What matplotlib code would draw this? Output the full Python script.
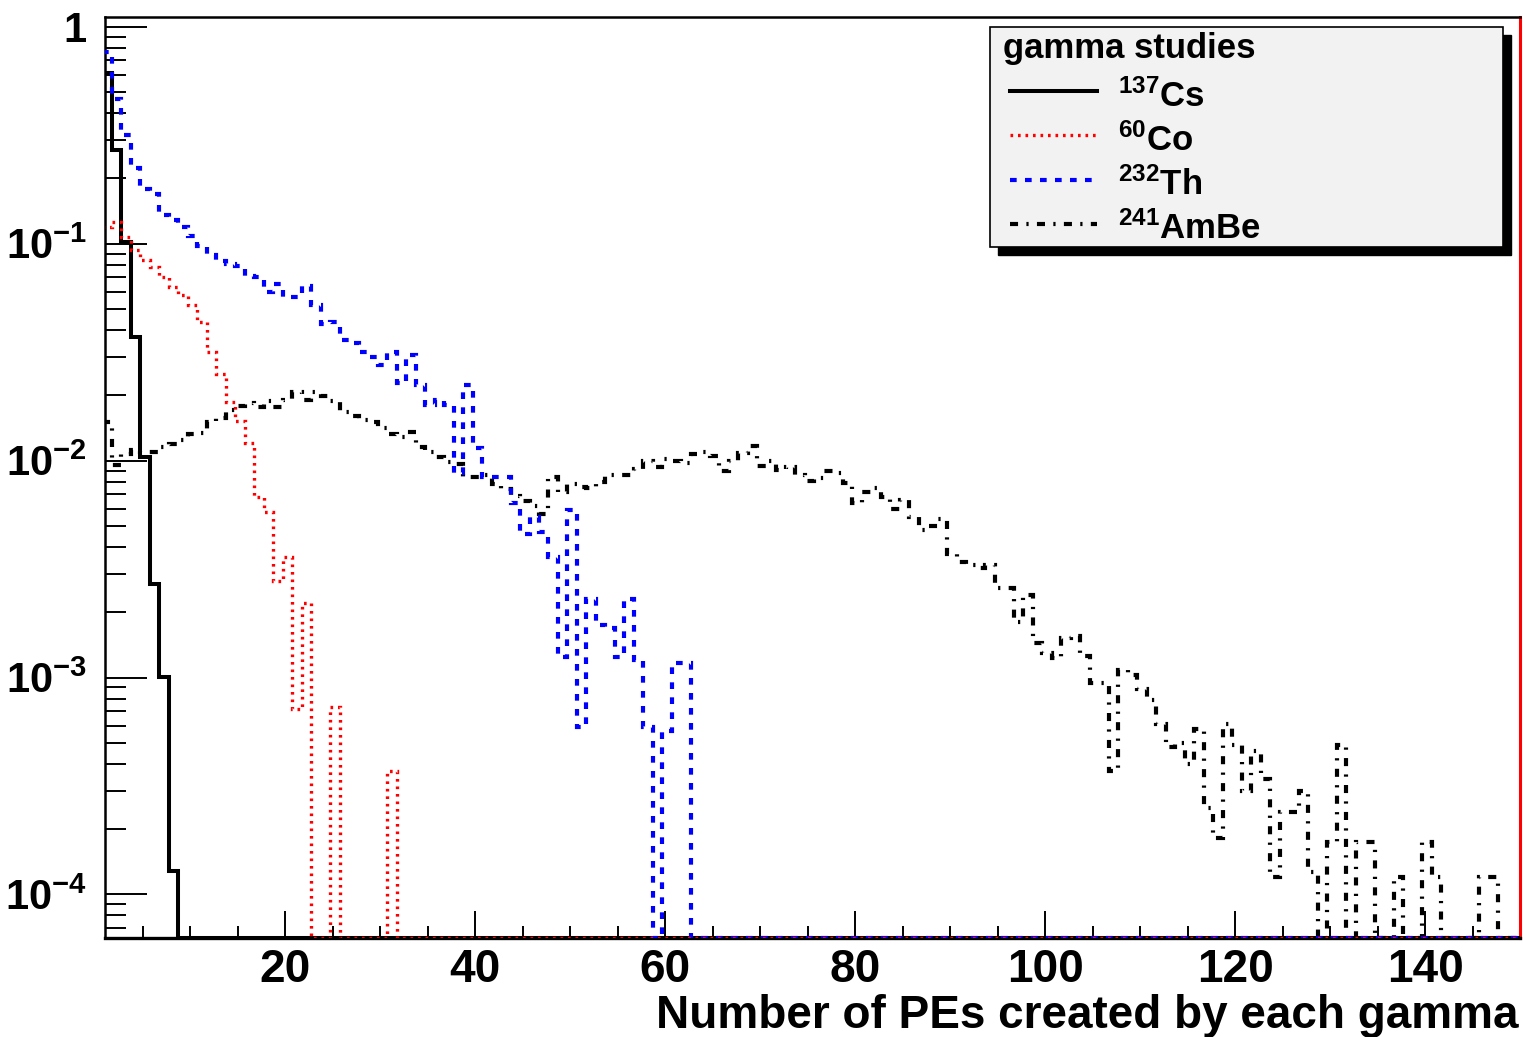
import matplotlib
matplotlib.use("Agg")
import matplotlib.pyplot as plt
import numpy as np
from matplotlib.patches import Rectangle
from matplotlib.lines import Line2D
from matplotlib.ticker import FixedLocator, MultipleLocator, LogLocator, NullFormatter

plt.rcParams['font.family'] = ['Liberation Sans', 'DejaVu Sans']
plt.rcParams['font.weight'] = 'bold'
plt.rcParams['mathtext.fontset'] = 'custom'
plt.rcParams['mathtext.rm'] = 'Liberation Sans:bold'
plt.rcParams['mathtext.bf'] = 'Liberation Sans:bold'
plt.rcParams['mathtext.it'] = 'Liberation Sans:bold'
plt.rcParams['mathtext.default'] = 'rm'
plt.rcParams['lines.scale_dashes'] = False

# histogram binning (1 PE wide bins)
bin_edges = np.arange(0.7, 151.0, 1.0)
n_bins = len(bin_edges) - 1

# fraction of gammas per PE bin
cs137 = [0.61, 0.27, 0.102, 0.037, 0.0104, 0.0027, 0.00101, 0.000128]

co60 = [0.119, 0.126, 0.107, 0.094, 0.084, 0.078, 0.070, 0.063, 0.058, 0.052,
        0.0437, 0.0318, 0.0252, 0.0187, 0.0153, 0.0121, 0.0068, 0.0058, 0.0028, 0.0036,
        0.00072, 0.0022, 0, 0, 0.00073, 0, 0, 0, 0, 0,
        0.00037]

th232 = [0.767, 0.466, 0.318, 0.224, 0.179, 0.170, 0.136, 0.128, 0.119, 0.109,
         0.098, 0.089, 0.083, 0.081, 0.079, 0.071, 0.070, 0.060, 0.065, 0.057,
         0.057, 0.064, 0.052, 0.0428, 0.0437, 0.036, 0.035, 0.0316, 0.0302, 0.0275,
         0.0316, 0.0229, 0.0307, 0.0224, 0.0181, 0.019, 0.0181, 0.0088, 0.0224, 0.0114,
         0.0084, 0.0084, 0.0084, 0.0064, 0.0046, 0.0055, 0.0047, 0.0036, 0.00125, 0.0059,
         0.00059, 0.0023, 0.00175, 0.0017, 0.00125, 0.0023, 0.0012, 0.00059, 0, 0.00057,
         0.00117, 0.00117]

ambe241 = [0.0151, 0.0095, 0.0107, 0.0112, 0.011, 0.011, 0.0116, 0.0119, 0.0125, 0.0132,
           0.0134, 0.0150, 0.0158, 0.0171, 0.0178, 0.0184, 0.0177, 0.0189, 0.0177, 0.0190,
           0.0207, 0.0190, 0.0207, 0.0199, 0.0188, 0.0168, 0.0160, 0.0154, 0.0150, 0.0141,
           0.0133, 0.0129, 0.0136, 0.0116, 0.0110, 0.0104, 0.0099, 0.0096, 0.0084, 0.0084,
           0.0086, 0.0078, 0.0074, 0.0069, 0.0065, 0.0062, 0.0057, 0.0084, 0.0072, 0.0078,
           0.0076, 0.0075, 0.0080, 0.0086, 0.0086, 0.0086, 0.0092, 0.0100, 0.0093, 0.0102,
           0.0100, 0.0098, 0.0107, 0.0110, 0.0105, 0.0090, 0.0100, 0.0109, 0.0117, 0.0094,
           0.0100, 0.0091, 0.0093, 0.0086, 0.0081, 0.0083, 0.0090, 0.0088, 0.0079, 0.0064,
           0.0072, 0.0075, 0.0068, 0.0060, 0.0066, 0.0055, 0.0048, 0.0050, 0.0054, 0.0037,
           0.0034, 0.0033, 0.0032, 0.0033, 0.0026, 0.0026, 0.00181, 0.0024, 0.00145, 0.0013,
           0.00123, 0.00153, 0.00156, 0.00126, 0.00094, 0.00094, 0.00037, 0.00108, 0.00103, 0.00089,
           0.00079, 0.00061, 0.00048, 0.00050, 0.00040, 0.00058, 0.00025, 0.000183, 0.00061, 0.00049,
           0.00030, 0.00046, 0.00034, 0.000121, 0.00024, 0.00024, 0.00030, 0.000127, 0, 0.000174,
           0.00049, 0, 0.000175, 0.000175, 0, 0, 0.00012, 0, 0, 0.000175,
           0.00012, 0, 0, 0, 0, 0.00012, 0.00012]

labels = ['$^{137}$Cs', '$^{60}$Co', '$^{232}$Th', '$^{241}$AmBe']
x_ticks = [20, 40, 60, 80, 100, 120, 140]
y_ticks = [1e-4, 1e-3, 1e-2, 1e-1, 1]
y_ticklabels = ['$10^{-4}$', '$10^{-3}$', '$10^{-2}$', '$10^{-1}$', '1']

ymin, ymax = 6.3e-5, 1.11

W, H = 1523, 1037
fig = plt.figure(figsize=(W / 100, H / 100), dpi=100)
ax = fig.add_axes([105 / W, 1 - 938 / H, (1520 - 105) / W, (938 - 17) / H])


def full(vals):
    v = np.zeros(n_bins)
    v[:len(vals)] = vals
    # empty bins are drawn on the frame bottom, like ROOT does
    return np.maximum(v, ymin)


styles = {
    'cs': dict(color='black', lw=2.9, linestyle='-'),
    'co': dict(color='#ff0000', lw=2.4, linestyle=(0, (1.9, 3.5))),
    'th': dict(color='#0000ff', lw=3.0, linestyle=(0, (4.8, 6.0))),
    'ambe': dict(color='black', lw=3.0, linestyle=(0, (5.8, 6.0, 1.6, 6.0))),
}

ax.stairs(full(ambe241), bin_edges, baseline=None, zorder=3, **styles['ambe'])
ax.stairs(full(cs137), bin_edges, baseline=None, zorder=3, **styles['cs'])
ax.stairs(full(th232), bin_edges, baseline=None, zorder=3, **styles['th'])
ax.stairs(full(co60), bin_edges, baseline=None, zorder=3, **styles['co'])

ax.set_yscale('log')
ax.set_xlim(1, 150)
ax.set_ylim(ymin, ymax)

ax.xaxis.set_major_locator(FixedLocator(x_ticks))
ax.set_xticklabels([str(t) for t in x_ticks])
ax.xaxis.set_minor_locator(MultipleLocator(5))
ax.yaxis.set_major_locator(FixedLocator(y_ticks))
ax.set_yticklabels(y_ticklabels)
ax.yaxis.set_minor_locator(LogLocator(base=10, subs=np.arange(2, 10)))
ax.yaxis.set_minor_formatter(NullFormatter())

ax.tick_params(axis='x', which='major', direction='in', length=19.5, width=1.4,
               labelsize=33, pad=7, top=False)
ax.tick_params(axis='x', which='minor', direction='in', length=9, width=1.4, top=False)
ax.tick_params(axis='y', which='major', direction='in', length=30, width=1.4,
               labelsize=30, pad=13, right=False)
ax.tick_params(axis='y', which='minor', direction='in', length=15, width=1.4, right=False)

for s in ['left', 'top']:
    ax.spines[s].set_linewidth(1.8)
ax.spines['bottom'].set_linewidth(2.4)
ax.spines['right'].set_linewidth(2.2)
ax.spines['right'].set_color('#ff0000')

fig.text(1518 / W, 1 - 1028 / H, 'Number of PEs created by each gamma',
         ha='right', va='baseline', fontsize=33, fontweight='bold')


# legend box drawn ROOT-style with a hard black shadow
def fx(x):
    return x / W


def fy(y):
    return 1 - y / H


fig.patches.append(Rectangle((fx(998), fy(255)), fx(1511) - fx(998), fy(35) - fy(255),
                             transform=fig.transFigure, facecolor='black',
                             edgecolor='black', zorder=5))
fig.patches.append(Rectangle((fx(990), fy(247)), fx(1503) - fx(990), fy(27) - fy(247),
                             transform=fig.transFigure, facecolor='#f2f2f2',
                             edgecolor='black', lw=1.2, zorder=6))
fig.text(fx(1003), fy(58), 'gamma studies', fontsize=25, fontweight='bold',
         ha='left', va='baseline', zorder=7)

entry_keys = ['cs', 'co', 'th', 'ambe']
line_y = [91, 135, 180, 224]
text_y = [107, 151, 195, 239]
for key, lab, ly, ty in zip(entry_keys, labels, line_y, text_y):
    fig.lines.append(Line2D([fx(1010), fx(1097)], [fy(ly), fy(ly)],
                            transform=fig.transFigure, zorder=7, **styles[key]))
    fig.text(fx(1118), fy(ty), lab, fontsize=25, ha='left', va='baseline', zorder=7)

fig.savefig('out.png', dpi=100)
